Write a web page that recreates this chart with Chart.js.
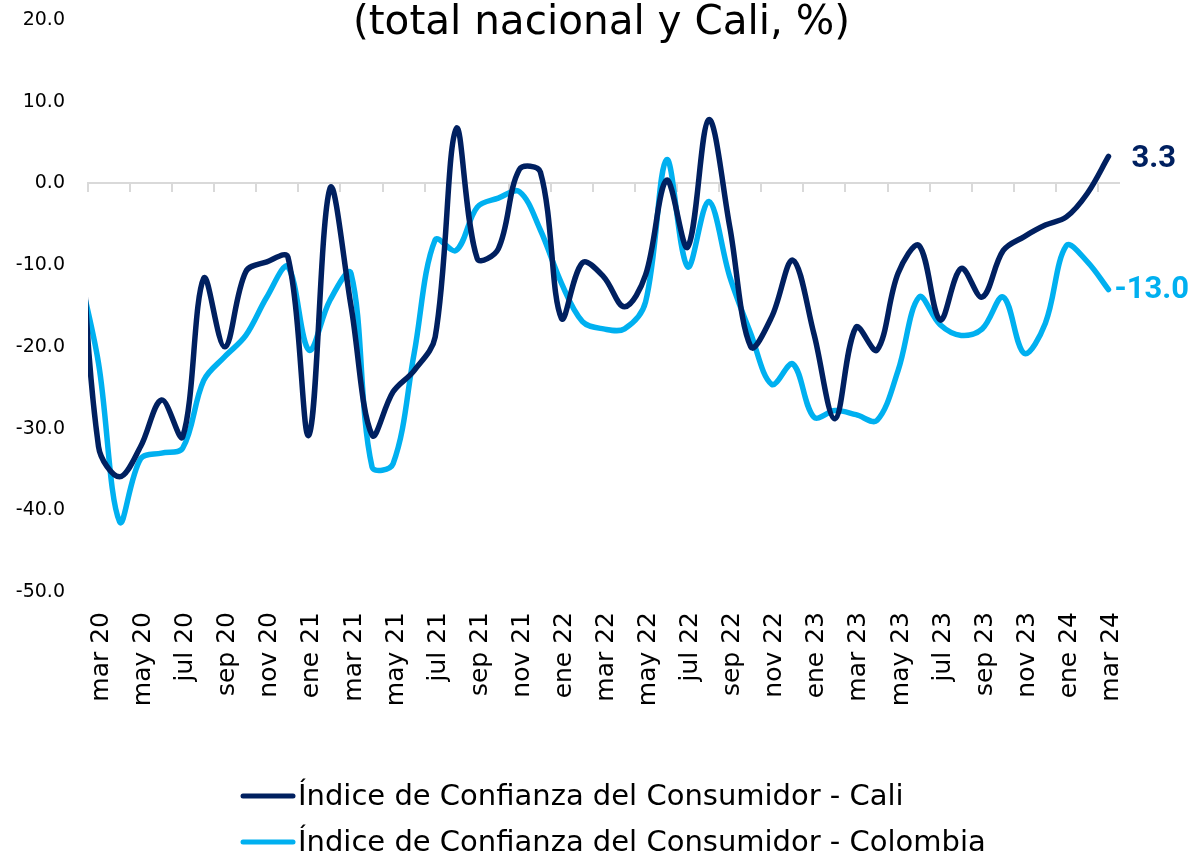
<!DOCTYPE html>
<html>
<head>
<meta charset="utf-8">
<script src="https://cdn.jsdelivr.net/npm/chart.js@4.4.1/dist/chart.umd.min.js"></script>
<style>
  html, body { margin: 0; padding: 0; background: #ffffff; }
  #wrap { width: 1193px; height: 860px; position: relative; }
</style>
</head>
<body>
<div id="wrap"><canvas id="c" width="1193" height="860"></canvas></div>
<script>
// Categories (feb 20 lies just outside the visible axis, as in the source chart)
const months = [
  'feb 20',
  'mar 20','abr 20','may 20','jun 20','jul 20','ago 20','sep 20','oct 20','nov 20','dic 20',
  'ene 21','feb 21','mar 21','abr 21','may 21','jun 21','jul 21','ago 21','sep 21','oct 21','nov 21','dic 21',
  'ene 22','feb 22','mar 22','abr 22','may 22','jun 22','jul 22','ago 22','sep 22','oct 22','nov 22','dic 22',
  'ene 23','feb 23','mar 23','abr 23','may 23','jun 23','jul 23','ago 23','sep 23','oct 23','nov 23','dic 23',
  'ene 24','feb 24','mar 24'
];
const firstVisibleMonth = 'mar 20';

// Índice de Confianza del Consumidor - Cali (%)
const iccCali = [
  2.0,
  -32.2, -35.9, -32.2, -26.5, -31.0, -11.6, -20.0, -10.8, -9.6, -9.0,
  -30.8, -0.6, -15.0, -30.8, -25.5, -22.9, -18.8, 6.7, -9.2, -8.0, 1.7, 1.4,
  -16.5, -9.7, -11.4, -15.1, -11.2, 0.4, -7.8, 7.8, -5.3, -20.0, -16.3, -9.4,
  -18.4, -28.8, -17.6, -20.4, -11.0, -7.6, -16.7, -10.4, -13.9, -8.2, -6.5, -5.1,
  -4.1, -1.2, 3.3
];

// Índice de Confianza del Consumidor - Colombia (%)
const iccColombia = [
  -10.0,
  -22.0, -41.4, -33.7, -33.0, -32.4, -24.1, -21.2, -18.6, -13.9, -10.2,
  -20.4, -14.3, -11.0, -34.7, -34.3, -20.8, -6.9, -8.2, -2.9, -1.8, -1.0, -5.7,
  -12.2, -16.9, -17.8, -17.8, -14.5, 2.9, -10.2, -2.2, -11.4, -18.4, -24.6, -22.1,
  -28.6, -27.8, -28.3, -29.0, -22.9, -13.9, -17.3, -18.6, -17.8, -13.9, -20.8, -17.1,
  -7.6, -9.6, -13.0
];

const seriesNames = [
  'Índice de Confianza del Consumidor - Cali',
  'Índice de Confianza del Consumidor - Colombia'
];
const titleText = '(total nacional y Cali, %)';
const yTicks = { min: -50, max: 20, step: 10 };

const DARK = '#002060';
const LIGHT = '#00B0F0';
const AXIS_GRAY = '#D9D9D9';
const NONE = 'rgba(0,0,0,0)';
const FONT = '"DejaVu Sans", sans-serif';

const overlayPlugin = {
  id: 'overlay',
  afterDraw(chart) {
    const ctx = chart.ctx;
    ctx.save();
    // title
    ctx.fillStyle = '#000000';
    ctx.font = '40.5px ' + FONT;
    ctx.textAlign = 'center';
    ctx.textBaseline = 'alphabetic';
    ctx.fillText(titleText, 601.5, 34);

    // end-of-series value labels
    const lblCfg = [
      { ds: 0, dx: 23, dy: 3, color: DARK },
      { ds: 1, dx: 6, dy: 1, color: LIGHT }
    ];
    ctx.font = 'bold 31px Roboto, sans-serif';
    ctx.textAlign = 'left';
    ctx.textBaseline = 'middle';
    lblCfg.forEach(c => {
      const meta = chart.getDatasetMeta(c.ds);
      const pts = meta.data;
      const p = pts[pts.length - 1];
      const vals = chart.data.datasets[c.ds].data;
      const v = vals[vals.length - 1];
      ctx.fillStyle = c.color;
      ctx.fillText(v.toFixed(1), p.x + c.dx, p.y + c.dy);
    });

    // legend
    const rows = [
      { name: seriesNames[0], color: DARK, y: 796 },
      { name: seriesNames[1], color: LIGHT, y: 842 }
    ];
    rows.forEach(r => {
      ctx.strokeStyle = r.color;
      ctx.lineWidth = 5;
      ctx.lineCap = 'round';
      ctx.beginPath();
      ctx.moveTo(243, r.y);
      ctx.lineTo(293, r.y);
      ctx.stroke();
      ctx.fillStyle = '#000000';
      ctx.font = '29px ' + FONT;
      ctx.textAlign = 'left';
      ctx.textBaseline = 'alphabetic';
      ctx.fillText(r.name, 298, r.y + 9);
    });
    ctx.restore();
  }
};

new Chart(document.getElementById('c'), {
  type: 'line',
  data: {
    labels: months,
    datasets: [
      {
        label: seriesNames[0],
        data: iccCali,
        borderColor: DARK,
        backgroundColor: DARK,
        borderWidth: 5.5,
        pointRadius: 0,
        tension: 0.35,
        borderCapStyle: 'round',
        borderJoinStyle: 'round',
        clip: { left: 0, top: 10, right: 10, bottom: 10 }
      },
      {
        label: seriesNames[1],
        data: iccColombia,
        borderColor: LIGHT,
        backgroundColor: LIGHT,
        borderWidth: 5.5,
        pointRadius: 0,
        tension: 0.35,
        borderCapStyle: 'round',
        borderJoinStyle: 'round',
        clip: { left: 0, top: 10, right: 10, bottom: 10 }
      }
    ]
  },
  options: {
    responsive: false,
    devicePixelRatio: 1,
    animation: false,
    layout: { padding: { top: 20, right: 74, bottom: 0, left: 0 } },
    plugins: {
      legend: { display: false },
      title: { display: false },
      tooltip: { enabled: false }
    },
    scales: {
      x: {
        type: 'category',
        position: 'bottom',
        min: firstVisibleMonth,
        offset: true,
        border: { display: false },
        grid: {
          display: true,
          drawOnChartArea: false,
          drawTicks: true,
          tickLength: 17,
          color: NONE
        },
        ticks: {
          autoSkip: false,
          minRotation: 90,
          maxRotation: 90,
          padding: 3,
          labelOffset: 3,
          color: '#000000',
          font: { family: FONT, size: 25 },
          callback: function (value, index) {
            return index % 2 === 0 ? this.getLabelForValue(value) : '';
          }
        },
        afterFit: function (scale) { scale.height = 268; }
      },
      x2: {
        type: 'category',
        axis: 'x',
        position: { y: 0 },
        min: firstVisibleMonth,
        offset: true,
        border: { display: true, color: AXIS_GRAY, width: 2 },
        grid: {
          display: true,
          offset: true,
          drawOnChartArea: false,
          drawTicks: true,
          tickLength: 8,
          lineWidth: 2,
          color: function (c) {
            return (c.index !== undefined && c.index % 2 === 0) ? AXIS_GRAY : NONE;
          }
        },
        ticks: { display: false, autoSkip: false }
      },
      y: {
        type: 'linear',
        position: 'left',
        min: yTicks.min,
        max: yTicks.max,
        border: { display: false },
        grid: {
          display: true,
          drawOnChartArea: false,
          drawTicks: true,
          tickLength: 20,
          color: NONE
        },
        ticks: {
          stepSize: yTicks.step,
          padding: 3,
          color: '#000000',
          font: { family: FONT, size: 19 },
          callback: function (v) { return Number(v).toFixed(1); }
        },
        afterFit: function (scale) { scale.width = 88; }
      }
    }
  },
  plugins: [overlayPlugin]
});
</script>
</body>
</html>
